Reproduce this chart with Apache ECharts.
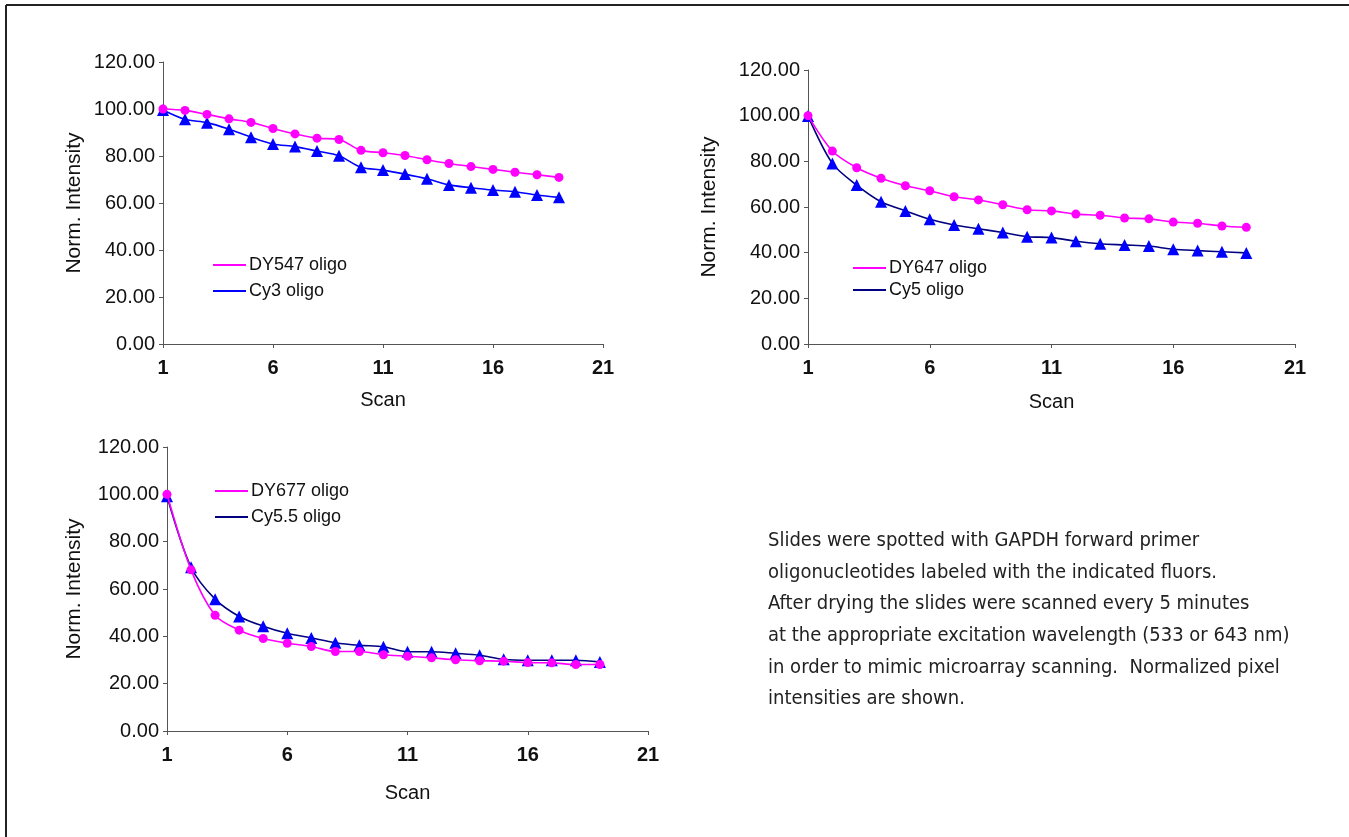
<!DOCTYPE html>
<html><head><meta charset="utf-8">
<script src="https://cdn.jsdelivr.net/npm/echarts@6/dist/echarts.min.js"></script>
<style>html,body{margin:0;padding:0;background:#fff;} #c{width:1349px;height:837px;}</style>
</head><body><div id="c"></div>
<script>
const scans = [1,2,3,4,5,6,7,8,9,10,11,12,13,14,15,16,17,18,19];
const dy547 = [100.0,99.4,97.7,95.8,94.3,91.7,89.4,87.6,87.0,82.4,81.4,80.2,78.4,76.8,75.5,74.3,73.1,72.0,70.9];
const cy3   = [99.6,95.6,94.2,91.4,88.0,85.1,84.0,82.1,80.1,75.2,74.0,72.3,70.3,67.7,66.5,65.5,64.8,63.4,62.4];
const dy647 = [100.0,84.5,77.2,72.6,69.3,67.1,64.5,63.1,61.0,58.8,58.3,56.9,56.4,55.2,54.8,53.4,52.9,51.7,51.1];
const cy5   = [99.9,79.1,69.6,62.3,58.3,54.6,52.1,50.5,48.8,47.0,46.6,45.0,43.9,43.4,42.9,41.5,40.9,40.4,39.9];
const dy677 = [100.0,68.1,48.9,42.6,39.1,37.1,35.7,33.6,33.6,32.2,31.6,30.9,30.1,29.7,29.5,28.9,28.8,28.1,28.1];
const cy55  = [99.2,69.2,55.7,48.4,44.3,41.3,39.3,37.3,36.2,35.6,33.5,33.5,32.8,32.0,30.3,29.9,29.9,29.9,29.2];
const seriesNames = ['DY547 oligo','Cy3 oligo','DY647 oligo','Cy5 oligo','DY677 oligo','Cy5.5 oligo'];
const xTitle = 'Scan';
const yTitle = 'Norm. Intensity';
const noteLines = [
  'Slides were spotted with GAPDH forward primer',
  'oligonucleotides labeled with the indicated fluors.',
  'After drying the slides were scanned every 5 minutes',
  'at the appropriate excitation wavelength (533 or 643 nm)',
  'in order to mimic microarray scanning.  Normalized pixel',
  'intensities are shown.'
];

const FONT = '"Liberation Sans", Arial, sans-serif';
const MAG = '#FF00FF', BLUE = '#0000FF', NAVY = '#000080';
const pairs = v => scans.map((s, i) => [s, v[i]]);

const grids = [
  {left: 163, top: 62, width: 440, height: 282},
  {left: 808, top: 70, width: 487, height: 274},
  {left: 167, top: 447, width: 481, height: 284}
];
const titleGaps = [78, 88, 82];
const scanGaps = [46, 48, 52];

const xAxes = grids.map((g, i) => ({
  type: 'value', gridIndex: i, min: 1, max: 21, interval: 5,
  splitLine: {show: false},
  axisLine: {lineStyle: {color: '#555', width: 1}},
  axisTick: {length: 4, lineStyle: {color: '#555'}},
  axisLabel: {color: '#111', fontSize: 20, fontWeight: 'bold', fontFamily: FONT, margin: 14},
  name: xTitle, nameLocation: 'middle', nameGap: scanGaps[i],
  nameTextStyle: {color: '#111', fontSize: 20, fontFamily: FONT}
}));
const yAxes = grids.map((g, i) => ({
  type: 'value', gridIndex: i, min: 0, max: 120, interval: 20,
  splitLine: {show: false},
  axisLine: {show: true, lineStyle: {color: '#555', width: 1}},
  axisTick: {show: true, length: 4, lineStyle: {color: '#555'}},
  axisLabel: {color: '#111', fontSize: 20, fontFamily: FONT, margin: 8,
              formatter: v => v.toFixed(2)},
  name: yTitle, nameLocation: 'middle', nameGap: titleGaps[i], nameRotate: 90,
  nameTextStyle: {color: '#111', fontSize: 21, fontFamily: FONT}
}));

function mk(name, data, idx, lineColor, markColor, symbol, size, z) {
  return {
    name, type: 'line', xAxisIndex: idx, yAxisIndex: idx, data: pairs(data),
    smooth: 0.3, symbol, symbolSize: size, showSymbol: true, z,
    lineStyle: {color: lineColor, width: 1.6},
    itemStyle: {color: markColor},
    emphasis: {disabled: true}
  };
}

const series = [
  mk(seriesNames[1], cy3, 0, BLUE, BLUE, 'triangle', 12, 2),
  mk(seriesNames[0], dy547, 0, MAG, MAG, 'circle', 9, 3),
  mk(seriesNames[3], cy5, 1, NAVY, BLUE, 'triangle', 12, 2),
  mk(seriesNames[2], dy647, 1, MAG, MAG, 'circle', 9, 3),
  mk(seriesNames[5], cy55, 2, NAVY, BLUE, 'triangle', 12, 2),
  mk(seriesNames[4], dy677, 2, MAG, MAG, 'circle', 9, 3)
];

function legend(names, colors, left, top, gap) {
  return {
    orient: 'vertical', left, top, itemGap: gap, itemWidth: 33, itemHeight: 2,
    icon: 'rect', selectedMode: false,
    textStyle: {color: '#111', fontSize: 18, fontFamily: FONT, padding: [0, 0, 0, -2]},
    data: names.map((n, k) => ({name: n, itemStyle: {color: colors[k]}}))
  };
}

const graphic = [
  {type: 'line', shape: {x1: 6, y1: 5, x2: 1349, y2: 5}, style: {stroke: '#222', lineWidth: 2}},
  {type: 'line', shape: {x1: 6, y1: 5, x2: 6, y2: 837}, style: {stroke: '#222', lineWidth: 2}}
].concat(noteLines.map((t, k) => ({
  type: 'text', left: 768, top: 531 + k * 31.6,
  style: {text: t, fill: '#222', font: '20px "Liberation Sans Narrow", "DejaVu Sans Condensed", Arial, sans-serif'}
})));

const chart = echarts.init(document.getElementById('c'), null, {renderer: 'canvas'});
chart.setOption({
  backgroundColor: '#fff',
  animation: false,
  grid: grids.map(g => Object.assign({containLabel: false}, g)),
  xAxis: xAxes,
  yAxis: yAxes,
  legend: [
    legend([seriesNames[0], seriesNames[1]], [MAG, BLUE], 208, 251, 8),
    legend([seriesNames[2], seriesNames[3]], [MAG, NAVY], 848, 254, 4),
    legend([seriesNames[4], seriesNames[5]], [MAG, NAVY], 210, 477, 8)
  ],
  series,
  graphic
});
</script></body></html>
